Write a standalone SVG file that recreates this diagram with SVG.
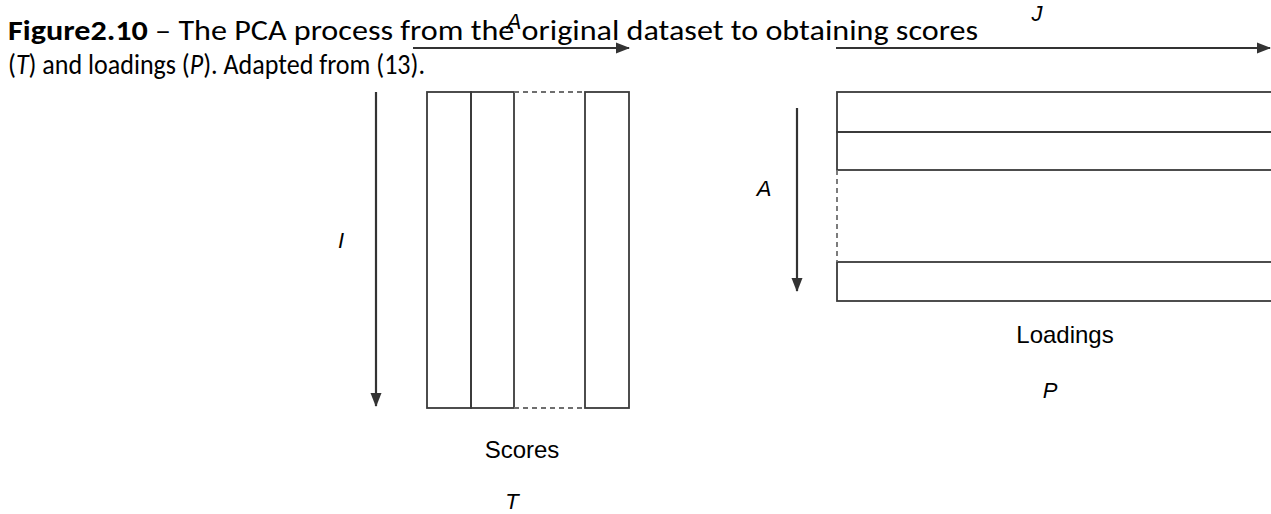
<svg xmlns="http://www.w3.org/2000/svg" width="1271" height="514" viewBox="0 0 1271 514">
  <defs>
    <marker id="arrowhead" markerWidth="14" markerHeight="12" refX="13" refY="6" orient="auto" markerUnits="userSpaceOnUse">
      <path d="M0,0.5 L14,6 L0,11.5 Z" fill="#333333"/>
    </marker>
    <style>
      .caption { font-family: "Carlito", "Lato", "Liberation Sans", sans-serif; font-size: 28px; fill: #000000; }
      .label { font-family: "Liberation Sans", Arial, sans-serif; font-size: 24px; fill: #000000; text-anchor: middle; }
      .var { font-family: "Liberation Sans", Arial, sans-serif; font-size: 22px; font-style: italic; fill: #000000; text-anchor: middle; }
      .cell { fill: none; stroke: #3a3a3a; stroke-width: 1.8; }
      .gap { fill: none; stroke: #6e6e6e; stroke-width: 1.8; stroke-dasharray: 5 4; }
      .axis { fill: none; stroke: #333333; stroke-width: 2.2; }
    </style>
  </defs>

  <rect width="1271" height="514" fill="#ffffff"/>

  <!-- caption -->
  <g id="caption">
    <text class="caption" x="8" y="40" textLength="970" lengthAdjust="spacingAndGlyphs"><tspan font-weight="bold">Figure2.10</tspan> – The PCA process from the original dataset to obtaining scores</text>
    <text class="caption" x="8" y="74" textLength="417" lengthAdjust="spacingAndGlyphs">(<tspan font-style="italic">T</tspan>) and loadings (<tspan font-style="italic">P</tspan>). Adapted from (13).</text>
  </g>

  <!-- scores matrix T -->
  <g id="scores">
    <rect class="cell" x="427" y="92" width="44" height="316"/>
    <rect class="cell" x="471" y="92" width="43" height="316"/>
    <rect class="cell" x="585" y="92" width="44" height="316"/>
    <line class="gap" x1="514" y1="92" x2="585" y2="92"/>
    <line class="gap" x1="514" y1="408" x2="585" y2="408"/>
    <text class="label" x="522" y="458">Scores</text>
    <text class="var" x="512" y="509">T</text>
  </g>

  <!-- loadings matrix P -->
  <g id="loadings">
    <rect class="cell" x="837" y="92" width="450" height="40"/>
    <rect class="cell" x="837" y="132" width="450" height="38"/>
    <rect class="cell" x="837" y="262" width="450" height="39"/>
    <line class="gap" x1="837" y1="170" x2="837" y2="262"/>
    <text class="label" x="1065" y="343">Loadings</text>
    <text class="var" x="1050" y="398">P</text>
  </g>

  <!-- dimension arrows -->
  <g id="connectors">
    <line class="axis" x1="413" y1="48" x2="629" y2="48" marker-end="url(#arrowhead)"/>
    <line class="axis" x1="836" y1="48" x2="1270" y2="48" marker-end="url(#arrowhead)"/>
    <line class="axis" x1="376" y1="92" x2="376" y2="406" marker-end="url(#arrowhead)"/>
    <line class="axis" x1="797" y1="108" x2="797" y2="291" marker-end="url(#arrowhead)"/>
  </g>

  <!-- dimension labels -->
  <g id="dimension-labels">
    <text class="var" x="514" y="29">A</text>
    <text class="var" x="1037" y="21">J</text>
    <text class="var" x="341" y="248">I</text>
    <text class="var" x="764" y="196">A</text>
  </g>
</svg>
